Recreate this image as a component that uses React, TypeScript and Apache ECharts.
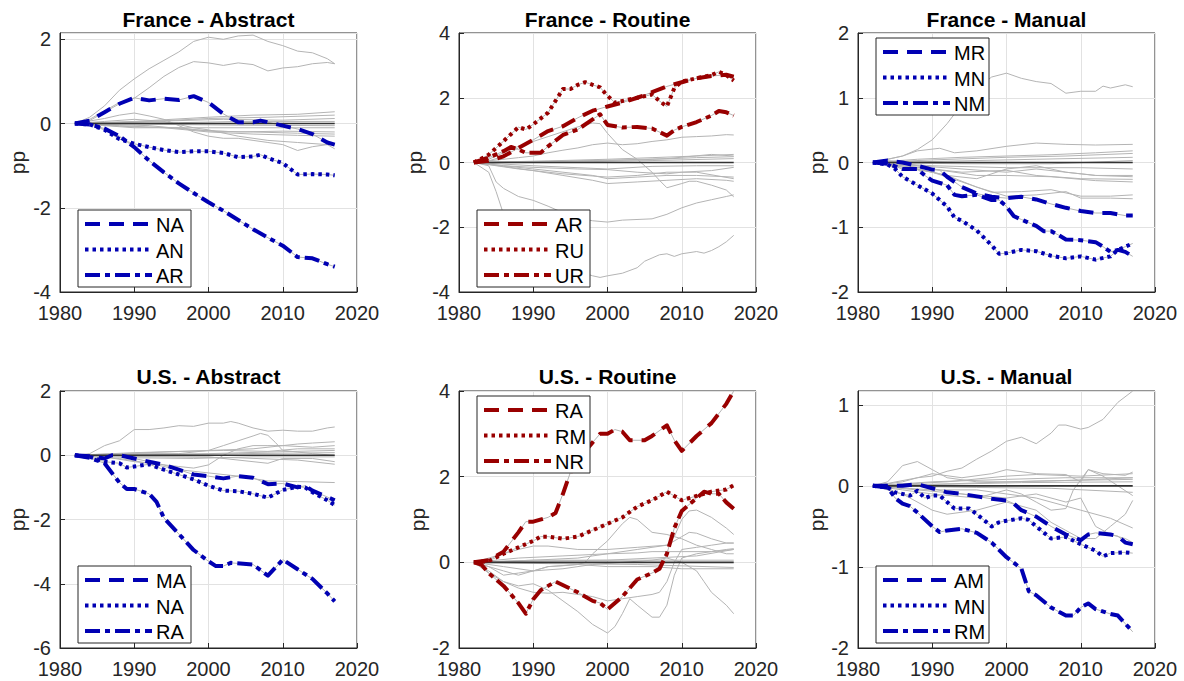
import React, { useEffect, useRef } from "react";
import * as echarts from "echarts";

// ---------- data: [year, pp] ----------
const X_TICKS = [1980, 1990, 2000, 2010, 2020];
const ZERO_SPAN = [1982, 2017];

// France - Abstract
const FRA_ABS_NA = [[1982,0],[1984,0.07],[1986,0.27],[1988,0.47],[1990,0.61],[1992,0.55],[1994,0.59],[1996,0.56],[1998,0.65],[2000,0.5],[2002,0.23],[2004,0.03],[2006,0.03],[2007,0.07],[2008,0.03],[2010,-0.05],[2012,-0.13],[2014,-0.25],[2016,-0.45],[2017,-0.5]];
const FRA_ABS_AN = [[1982,0],[1984,-0.02],[1986,-0.15],[1988,-0.37],[1990,-0.48],[1992,-0.56],[1994,-0.63],[1996,-0.68],[1998,-0.66],[2000,-0.66],[2002,-0.7],[2004,-0.8],[2006,-0.78],[2007,-0.74],[2008,-0.82],[2010,-0.94],[2012,-1.21],[2014,-1.2],[2016,-1.21],[2017,-1.23]];
const FRA_ABS_AR = [[1982,0],[1984,-0.02],[1986,-0.12],[1988,-0.3],[1990,-0.56],[1992,-0.88],[1994,-1.16],[1996,-1.42],[1998,-1.65],[2000,-1.87],[2002,-2.07],[2004,-2.29],[2006,-2.51],[2008,-2.71],[2010,-2.9],[2012,-3.17],[2014,-3.2],[2016,-3.34],[2017,-3.4]];
const FRA_ABS_GRAY = [
  [[1982,0],[1984,0.15],[1986,0.42],[1988,0.79],[1990,1.06],[1992,1.3],[1994,1.5],[1996,1.7],[1998,1.95],[2000,2.05],[2002,2.0],[2004,2.08],[2006,2.1],[2008,1.95],[2010,1.85],[2012,1.72],[2014,1.68],[2016,1.54],[2017,1.42]],
  [[1982,0],[1984,0.1],[1986,0.3],[1988,0.5],[1990,0.6],[1992,0.85],[1994,1.12],[1996,1.33],[1998,1.47],[2000,1.44],[2002,1.38],[2004,1.44],[2006,1.4],[2008,1.25],[2010,1.32],[2012,1.35],[2014,1.42],[2016,1.45],[2017,1.42]],
  [[1982,0],[1986,0.12],[1988,0.2],[1990,0.25],[1992,0.18],[1994,0.1],[1996,-0.05],[1998,-0.2],[2000,-0.3],[2002,-0.35],[2004,-0.35],[2006,-0.4],[2008,-0.45],[2010,-0.5],[2012,-0.64],[2014,-0.55],[2016,-0.5],[2017,-0.6]],
  [[1982,0],[1986,0.05],[1990,0.1],[1994,0.05],[1998,-0.1],[2000,-0.15],[2004,-0.3],[2008,-0.4],[2012,-0.45],[2016,-0.5],[2017,-0.5]],
  [[1982,0],[1988,-0.05],[1994,-0.1],[2000,-0.2],[2006,-0.25],[2012,-0.28],[2017,-0.3]],
  [[1982,0],[1990,-0.08],[1996,-0.1],[2000,-0.18],[2006,-0.2],[2012,-0.23],[2017,-0.25]],
  [[1982,0],[1990,-0.1],[2000,-0.1],[2010,-0.1],[2017,-0.1]],
  [[1982,0],[1990,0.05],[2000,0.15],[2006,0.2],[2012,0.22],[2017,0.28]],
  [[1982,0],[1990,0.03],[2000,0.12],[2008,0.15],[2017,0.2]],
  [[1982,0],[1992,0.05],[2002,0.1],[2010,0.08],[2017,0.12]],
  [[1982,0],[1996,0.02],[2004,0.05],[2017,0.05]],
  [[1982,0],[1994,-0.02],[2004,-0.04],[2017,-0.05]],
  [[1982,0],[1992,-0.05],[1998,-0.15],[2004,-0.2],[2010,-0.18],[2017,-0.2]],
];

// France - Routine
const FRA_ROU_AR = [[1982,0],[1984,0.05],[1986,0.19],[1988,0.45],[1990,0.7],[1992,0.97],[1994,1.12],[1996,1.38],[1998,1.6],[2000,1.73],[2002,1.85],[2004,2.0],[2006,2.17],[2008,2.35],[2010,2.48],[2012,2.6],[2014,2.67],[2016,2.71],[2017,2.65]];
const FRA_ROU_RU = [[1982,0],[1984,0.24],[1986,0.66],[1988,1.09],[1989,1.02],[1990,1.18],[1992,1.54],[1994,2.27],[1995,2.27],[1996,2.4],[1997,2.48],[1998,2.4],[1999,2.32],[2000,2.06],[2001,1.85],[2002,1.9],[2004,2.0],[2006,2.1],[2007,1.9],[2008,1.73],[2009,2.3],[2010,2.5],[2012,2.6],[2014,2.7],[2015,2.8],[2016,2.7],[2017,2.53]];
const FRA_ROU_UR = [[1982,0],[1984,0.15],[1986,0.35],[1987,0.48],[1988,0.4],[1989,0.3],[1990,0.3],[1991,0.3],[1992,0.5],[1994,0.85],[1996,1.02],[1998,1.33],[1999,1.49],[2000,1.16],[2002,1.08],[2004,1.1],[2006,1.05],[2008,0.83],[2009,1.0],[2010,1.1],[2012,1.25],[2014,1.45],[2015,1.59],[2016,1.55],[2017,1.45]];
const FRA_ROU_GRAY = [
  [[1982,0],[1984,0.1],[1986,0.3],[1988,0.5],[1990,0.65],[1992,0.8],[1994,0.95],[1996,1.1],[1998,1.22],[1999,1.2],[2000,0.9],[2002,0.4],[2004,0.1],[2006,-0.3],[2007,-0.55],[2008,-0.78],[2010,-0.65],[2011,-0.58],[2012,-0.58],[2014,-0.7],[2016,-0.85],[2017,-1.06]],
  [[1982,0],[1984,0.05],[1988,0.15],[1990,0.2],[1992,0.3],[1994,0.38],[1996,0.45],[1998,0.55],[2000,0.6],[2002,0.55],[2004,0.58],[2006,0.65],[2008,0.7],[2010,0.78],[2012,0.8],[2014,0.82],[2016,0.86],[2017,0.85]],
  [[1982,0],[1984,-0.1],[1985,-0.6],[1986,-0.8],[1988,-1.05],[1990,-1.17],[1992,-1.35],[1994,-1.55],[1996,-1.72],[1998,-1.8],[2000,-1.84],[2002,-1.78],[2006,-1.74],[2008,-1.6],[2010,-1.4],[2012,-1.25],[2014,-1.15],[2016,-1.05],[2017,-1.0]],
  [[1982,0],[1984,-0.3],[1985,-0.9],[1986,-1.6],[1988,-2.2],[1990,-2.6],[1992,-2.9],[1994,-3.15],[1996,-3.35],[1998,-3.5],[1999,-3.55],[2000,-3.5],[2002,-3.42],[2004,-3.25],[2005,-3.05],[2006,-2.95],[2007,-2.85],[2008,-2.82],[2009,-2.9],[2010,-2.82],[2012,-2.75],[2013,-2.8],[2014,-2.72],[2015,-2.6],[2016,-2.45],[2017,-2.25]],
  [[1982,0],[1986,0.02],[1992,0.05],[2000,0.1],[2006,0.15],[2012,0.2],[2017,0.25]],
  [[1982,0],[1990,0.03],[2000,0.07],[2008,0.12],[2014,0.25],[2017,0.2]],
  [[1982,0],[1994,0.03],[2004,0.08],[2012,0.15],[2017,0.18]],
  [[1982,0],[1996,0.02],[2006,0.06],[2017,0.12]],
  [[1982,0],[1986,-0.1],[1990,-0.15],[1996,-0.2],[2000,-0.22],[2004,-0.3],[2008,-0.35],[2010,-0.3],[2014,-0.25],[2017,-0.15]],
  [[1982,0],[1986,-0.1],[1990,-0.2],[1994,-0.3],[1998,-0.4],[2000,-0.5],[2004,-0.45],[2008,-0.4],[2012,-0.4],[2017,-0.45]],
  [[1982,0],[1986,-0.12],[1990,-0.25],[1994,-0.4],[1998,-0.55],[2000,-0.65],[2004,-0.6],[2008,-0.55],[2012,-0.5],[2016,-0.55],[2017,-0.58]],
  [[1982,0],[1988,-0.2],[1994,-0.35],[2000,-0.45],[2004,-0.4],[2008,-0.3],[2012,-0.3],[2017,-0.5]],
  [[1982,0],[1990,-0.1],[2000,-0.2],[2006,-0.12],[2012,-0.1],[2017,-0.1]],
];

// France - Manual
const FRA_MAN_MR = [[1982,0],[1984,0.03],[1986,0.0],[1988,-0.05],[1990,-0.11],[1991,-0.12],[1992,-0.22],[1994,-0.38],[1996,-0.48],[1998,-0.53],[2000,-0.55],[2002,-0.53],[2004,-0.57],[2006,-0.64],[2008,-0.7],[2010,-0.75],[2012,-0.78],[2014,-0.78],[2016,-0.82],[2017,-0.82]];
const FRA_MAN_MN = [[1982,0],[1984,-0.03],[1985,-0.1],[1986,-0.22],[1988,-0.35],[1990,-0.48],[1992,-0.68],[1993,-0.85],[1994,-0.9],[1996,-1.05],[1998,-1.28],[1999,-1.41],[2000,-1.4],[2002,-1.35],[2004,-1.37],[2006,-1.44],[2008,-1.48],[2010,-1.45],[2012,-1.5],[2014,-1.45],[2015,-1.35],[2016,-1.3],[2017,-1.25]];
const FRA_MAN_NM = [[1982,0],[1984,-0.02],[1986,-0.1],[1988,-0.1],[1989,-0.2],[1990,-0.28],[1992,-0.35],[1993,-0.5],[1994,-0.52],[1996,-0.5],[1998,-0.58],[1999,-0.58],[2000,-0.68],[2001,-0.83],[2002,-0.88],[2004,-0.98],[2005,-1.06],[2006,-1.06],[2007,-1.12],[2008,-1.19],[2010,-1.2],[2012,-1.23],[2013,-1.3],[2014,-1.38],[2015,-1.35],[2016,-1.38],[2017,-1.45]];
const FRA_MAN_GRAY = [
  [[1982,0],[1984,0.05],[1986,0.1],[1988,0.2],[1990,0.35],[1992,0.6],[1994,0.9],[1996,1.15],[1998,1.32],[2000,1.38],[2002,1.3],[2004,1.25],[2006,1.22],[2008,1.07],[2010,1.1],[2012,1.1],[2013,1.18],[2014,1.15],[2016,1.2],[2017,1.17]],
  [[1982,0],[1986,0.1],[1988,0.18],[1991,0.22],[1993,0.15],[1996,0.18],[2000,0.25],[2004,0.3],[2008,0.28],[2012,0.27],[2017,0.28]],
  [[1982,0],[1988,0.05],[1994,0.08],[2000,0.1],[2006,0.12],[2012,0.15],[2017,0.18]],
  [[1982,0],[1990,0.04],[2000,0.08],[2008,0.1],[2017,0.14]],
  [[1982,0],[1992,0.02],[2004,0.05],[2017,0.08]],
  [[1982,0],[1994,-0.02],[2006,-0.02],[2017,0.03]],
  [[1982,0],[1990,-0.05],[2000,-0.08],[2010,-0.08],[2017,-0.1]],
  [[1982,0],[1988,-0.05],[1994,-0.1],[2000,-0.15],[2004,-0.1],[2008,-0.15],[2012,-0.2],[2017,-0.22]],
  [[1982,0],[1990,-0.1],[1996,-0.2],[2000,-0.2],[2006,-0.22],[2012,-0.28],[2017,-0.3]],
  [[1982,0],[1986,-0.05],[1992,-0.2],[1996,-0.25],[2000,-0.1],[2004,-0.05],[2008,-0.15],[2012,-0.2],[2017,-0.2]],
  [[1982,0],[1988,-0.1],[1992,-0.2],[1996,-0.38],[2000,-0.52],[2004,-0.5],[2008,-0.45],[2010,-0.55],[2014,-0.55],[2017,-0.56]],
  [[1982,0],[1990,-0.15],[1994,-0.3],[1998,-0.46],[2002,-0.45],[2006,-0.42],[2010,-0.52],[2014,-0.52],[2017,-0.5]],
  [[1982,0],[1994,-0.15],[2000,-0.12],[2004,-0.2],[2010,-0.25],[2017,-0.26]],
];

// U.S. - Abstract
const USA_ABS_MA = [[1982,0],[1984,-0.03],[1986,-0.1],[1987,0.0],[1988,0.0],[1990,-0.1],[1992,-0.2],[1994,-0.3],[1996,-0.45],[1998,-0.6],[2000,-0.65],[2002,-0.72],[2004,-0.65],[2006,-0.7],[2008,-0.9],[2010,-0.88],[2012,-1.0],[2013,-0.95],[2014,-1.1],[2016,-1.3],[2017,-1.4]];
const USA_ABS_NA = [[1982,0],[1984,-0.05],[1986,-0.2],[1988,-0.25],[1989,-0.38],[1990,-0.35],[1992,-0.28],[1994,-0.45],[1996,-0.6],[1998,-0.75],[2000,-0.95],[2002,-1.1],[2004,-1.12],[2006,-1.2],[2008,-1.32],[2010,-1.08],[2012,-0.98],[2013,-1.0],[2014,-1.15],[2016,-1.4],[2017,-1.55]];
const USA_ABS_RA = [[1982,0],[1984,-0.08],[1986,-0.25],[1987,-0.55],[1988,-0.85],[1989,-1.05],[1990,-1.05],[1992,-1.2],[1993,-1.45],[1994,-1.95],[1996,-2.45],[1998,-2.95],[2000,-3.3],[2001,-3.45],[2002,-3.45],[2003,-3.35],[2006,-3.4],[2008,-3.75],[2010,-3.25],[2012,-3.55],[2014,-3.85],[2016,-4.3],[2017,-4.55]];
const USA_ABS_GRAY = [
  [[1982,0],[1984,0.05],[1986,0.3],[1988,0.45],[1990,0.8],[1992,0.8],[1994,0.85],[1996,0.92],[1998,0.9],[2000,1.0],[2002,1.0],[2003,1.05],[2004,1.0],[2006,0.85],[2008,0.75],[2010,0.78],[2012,0.75],[2014,0.75],[2016,0.85],[2017,0.88]],
  [[1982,0],[1990,0.05],[1996,0.05],[2000,0.15],[2002,0.3],[2004,0.45],[2006,0.6],[2007,0.68],[2008,0.62],[2009,0.4],[2010,0.15],[2012,0.1],[2014,0.05],[2017,0.0]],
  [[1982,0],[1986,-0.05],[1990,-0.2],[1994,-0.3],[1996,-0.35],[1998,-0.4],[2000,-0.3],[2002,0.0],[2004,0.2],[2006,0.3],[2008,0.3],[2010,0.3],[2012,0.35],[2014,0.38],[2017,0.42]],
  [[1982,0],[1988,-0.1],[1992,-0.25],[1996,-0.45],[2000,-0.55],[2004,-0.65],[2008,-0.8],[2012,-0.82],[2017,-0.85]],
  [[1982,0],[1988,0.05],[1994,0.1],[2000,0.15],[2006,0.2],[2010,0.3],[2014,0.25],[2017,0.3]],
  [[1982,0],[1990,0.08],[1996,0.12],[2002,0.15],[2008,0.12],[2012,0.2],[2017,0.2]],
  [[1982,0],[1992,0.02],[2000,0.05],[2008,0.1],[2017,0.15]],
  [[1982,0],[1994,0.02],[2004,0.05],[2017,0.08]],
  [[1982,0],[1992,-0.05],[2000,-0.05],[2008,-0.25],[2010,-0.1],[2014,-0.1],[2017,-0.2]],
  [[1982,0],[1996,-0.05],[2004,-0.08],[2012,-0.15],[2017,-0.28]],
  [[1982,0],[1990,-0.08],[1998,-0.1],[2006,-0.05],[2017,-0.05]],
];

// U.S. - Routine
const USA_ROU_RA = [[1982,0],[1984,0.05],[1986,0.25],[1988,0.7],[1989,0.95],[1990,0.95],[1992,1.05],[1993,1.15],[1994,1.6],[1995,2.1],[1996,2.4],[1998,2.8],[1999,3.0],[2000,3.0],[2001,3.1],[2002,3.05],[2003,2.85],[2005,2.85],[2006,2.95],[2008,3.2],[2009,2.85],[2010,2.6],[2012,2.95],[2014,3.25],[2016,3.7],[2017,4.0]];
const USA_ROU_RM = [[1982,0],[1984,0.03],[1986,0.2],[1988,0.35],[1990,0.5],[1991,0.6],[1992,0.6],[1994,0.55],[1996,0.6],[1998,0.75],[2000,0.9],[2002,1.05],[2004,1.3],[2006,1.45],[2008,1.65],[2010,1.45],[2012,1.55],[2014,1.65],[2016,1.7],[2017,1.8]];
const USA_ROU_NR = [[1982,0],[1983,-0.05],[1984,-0.25],[1986,-0.55],[1988,-0.95],[1989,-1.2],[1990,-0.86],[1991,-0.65],[1993,-0.45],[1996,-0.7],[1998,-0.9],[1999,-0.95],[2000,-1.1],[2002,-0.8],[2004,-0.4],[2006,-0.25],[2007,-0.15],[2008,0.2],[2009,0.8],[2010,1.2],[2012,1.5],[2013,1.65],[2014,1.6],[2015,1.6],[2016,1.4],[2017,1.25]];
const USA_ROU_GRAY = [
  [[1982,0],[1984,-0.1],[1986,-0.3],[1988,-0.25],[1990,-0.2],[1992,-0.1],[1994,-0.08],[1996,-0.05],[1997,0.0],[1998,0.2],[2000,0.5],[2002,0.9],[2003,1.05],[2004,1.0],[2006,0.7],[2008,0.65],[2010,0.55],[2012,0.4],[2014,0.3],[2016,0.2],[2017,0.2]],
  [[1982,0],[1990,0.05],[1996,0.1],[2000,0.2],[2004,0.3],[2008,0.4],[2009,0.6],[2010,1.0],[2011,1.2],[2012,1.22],[2014,1.05],[2016,0.8],[2017,0.65]],
  [[1982,0],[1984,-0.25],[1986,-0.45],[1988,-0.55],[1990,-0.5],[1992,-0.65],[1994,-0.9],[1996,-1.15],[1998,-1.45],[2000,-1.65],[2001,-1.5],[2002,-1.2],[2003,-0.85],[2004,-1.0],[2006,-1.28],[2007,-1.28],[2008,-1.0],[2009,-0.3],[2010,0.1],[2012,0.2],[2014,0.25],[2016,0.3],[2017,0.32]],
  [[1982,0],[1986,-0.1],[1990,-0.2],[1994,-0.15],[1998,-0.05],[2002,0.0],[2006,0.05],[2008,0.1],[2010,0.0],[2012,-0.2],[2013,-0.45],[2014,-0.7],[2016,-1.0],[2017,-1.2]],
  [[1982,0],[1984,-0.2],[1986,-0.45],[1988,-0.6],[1990,-0.7],[1992,-0.72],[1994,-0.7],[1996,-0.75],[1998,-0.8],[2000,-0.9],[2002,-0.85],[2004,-0.8],[2006,-0.75],[2007,-0.7],[2008,-0.45],[2009,0.0],[2010,0.3],[2012,0.35],[2014,0.4],[2016,0.45],[2017,0.45]],
  [[1982,0],[1986,0.2],[1988,0.3],[1990,0.38],[1992,0.38],[1996,0.3],[2000,0.3],[2004,0.35],[2008,0.4],[2010,0.6],[2011,0.7],[2012,0.68],[2014,0.55],[2016,0.45],[2017,0.45]],
  [[1982,0],[1986,-0.2],[1988,-0.3],[1990,-0.2],[1992,-0.1],[1996,-0.05],[2000,-0.1],[2006,-0.1],[2010,-0.15],[2017,-0.15]],
  [[1982,0],[1990,0.05],[2000,0.05],[2006,0.1],[2012,0.15],[2017,0.3]],
  [[1982,0],[1990,0.03],[2000,0.05],[2010,0.05],[2017,0.05]],
  [[1982,0],[1992,-0.03],[2004,-0.05],[2017,-0.12]],
  [[1982,0],[1988,0.1],[1994,0.15],[2000,0.2],[2004,0.22],[2006,0.25],[2010,0.25],[2014,0.25],[2017,0.3]],
];

// U.S. - Manual
const USA_MAN_AM = [[1982,0],[1984,0],[1986,0],[1988,0.02],[1990,-0.03],[1992,-0.08],[1994,-0.1],[1996,-0.13],[1998,-0.16],[2000,-0.18],[2001,-0.22],[2002,-0.3],[2004,-0.38],[2006,-0.5],[2008,-0.6],[2010,-0.67],[2011,-0.6],[2012,-0.58],[2014,-0.6],[2015,-0.62],[2016,-0.7],[2017,-0.72]];
const USA_MAN_MN = [[1982,0],[1984,-0.02],[1985,-0.08],[1986,-0.1],[1987,-0.12],[1988,-0.06],[1989,-0.15],[1990,-0.12],[1991,-0.12],[1992,-0.2],[1993,-0.28],[1995,-0.28],[1996,-0.35],[1998,-0.5],[1999,-0.45],[2000,-0.43],[2002,-0.4],[2003,-0.42],[2004,-0.5],[2006,-0.65],[2008,-0.63],[2010,-0.72],[2012,-0.8],[2013,-0.87],[2014,-0.83],[2016,-0.82],[2017,-0.83]];
const USA_MAN_RM = [[1982,0],[1984,-0.02],[1985,-0.15],[1986,-0.22],[1987,-0.25],[1988,-0.33],[1990,-0.5],[1991,-0.57],[1992,-0.55],[1994,-0.53],[1996,-0.58],[1998,-0.7],[2000,-0.88],[2002,-1.02],[2003,-1.3],[2004,-1.35],[2006,-1.5],[2008,-1.6],[2009,-1.6],[2010,-1.5],[2011,-1.45],[2012,-1.52],[2014,-1.58],[2015,-1.6],[2016,-1.7],[2017,-1.8]];
const USA_MAN_GRAY = [
  [[1982,0],[1984,0.03],[1988,0.1],[1990,0.12],[1992,0.18],[1994,0.22],[1996,0.33],[1998,0.43],[2000,0.55],[2002,0.6],[2004,0.52],[2006,0.65],[2007,0.75],[2008,0.75],[2010,0.7],[2011,0.72],[2013,0.82],[2015,1.03],[2017,1.17]],
  [[1982,0],[1984,0.05],[1986,0.25],[1988,0.3],[1990,0.2],[1992,0.1],[1996,0.05],[2000,0.05],[2006,0.06],[2012,0.08],[2017,0.1]],
  [[1982,0],[1986,0.05],[1990,0.15],[1994,0.1],[1998,0.15],[2000,0.2],[2004,0.15],[2008,0.14],[2010,0.05],[2011,0.2],[2013,0.15],[2016,0.13],[2017,0.17]],
  [[1982,0],[1990,-0.05],[1996,-0.05],[2000,-0.1],[2004,-0.15],[2008,-0.25],[2010,-0.3],[2014,-0.4],[2017,-0.52]],
  [[1982,0],[1986,-0.1],[1990,-0.3],[1992,-0.35],[1996,-0.3],[2000,-0.2],[2004,-0.3],[2006,-0.45],[2008,-0.55],[2010,-0.65],[2012,-0.65],[2014,-0.5],[2016,-0.35],[2017,-0.18]],
  [[1982,0],[1986,-0.05],[1990,-0.1],[1996,-0.15],[2000,-0.05],[2002,-0.1],[2004,-0.2],[2006,-0.3],[2008,-0.28],[2009,-0.05],[2011,0.2],[2013,0.12],[2015,0.0],[2017,-0.12]],
  [[1982,0],[1988,-0.05],[1994,-0.1],[2000,-0.15],[2004,-0.1],[2008,-0.2],[2010,-0.15],[2012,-0.5],[2014,-0.6],[2016,-0.65],[2017,-0.7]],
  [[1982,0],[1990,0.05],[2000,0.08],[2008,0.1],[2017,0.1]],
  [[1982,0],[1994,0.03],[2004,0.06],[2017,0.08]],
  [[1982,0],[1992,0.02],[2002,0.04],[2017,0.05]],
  [[1982,0],[1996,-0.02],[2006,-0.03],[2017,-0.08]],
  [[1982,0],[1992,0.05],[2000,0.12],[2004,0.14],[2010,0.12],[2017,0.15]],
];

// ---------- styling / layout ----------
const BLUE = "#0000b3";
const RED = "#990000";
const GRAY = "#b4b4b4";
const AXIS = "#262626";
const FONT = "'Liberation Sans', Arial, Helvetica, sans-serif";
const DASHED = [15, 9];
const DOTTED = [3.5, 4];
const DASHDOT = [15, 5, 5, 5];
const STYLES = [DASHED, DOTTED, DASHDOT];

const COL_LEFT = [60, 459, 858];
const PLOT_W = 297;
const ROW_TOP = [33, 391];
const PLOT_H = [259, 257];
const TITLE_Y = [19, 376];
const LEG_W = 113;
const LEG_H = 77;

const PANELS = [
  { title: "France - Abstract", row: 0, col: 0, ymin: -4, ymax: 2.15, step: 2, color: BLUE, names: ["NA", "AN", "AR"], lines: [FRA_ABS_NA, FRA_ABS_AN, FRA_ABS_AR], gray: FRA_ABS_GRAY, legend: "lower", nameGap: 32 },
  { title: "France - Routine", row: 0, col: 1, ymin: -4, ymax: 4, step: 2, color: RED, names: ["AR", "RU", "UR"], lines: [FRA_ROU_AR, FRA_ROU_RU, FRA_ROU_UR], gray: FRA_ROU_GRAY, legend: "lower", nameGap: 34 },
  { title: "France - Manual", row: 0, col: 2, ymin: -2, ymax: 2, step: 1, color: BLUE, names: ["MR", "MN", "NM"], lines: [FRA_MAN_MR, FRA_MAN_MN, FRA_MAN_NM], gray: FRA_MAN_GRAY, legend: "upper", nameGap: 30 },
  { title: "U.S. - Abstract", row: 1, col: 0, ymin: -6, ymax: 2, step: 2, color: BLUE, names: ["MA", "NA", "RA"], lines: [USA_ABS_MA, USA_ABS_NA, USA_ABS_RA], gray: USA_ABS_GRAY, legend: "lower", nameGap: 32 },
  { title: "U.S. - Routine", row: 1, col: 1, ymin: -2, ymax: 4, step: 2, color: RED, names: ["RA", "RM", "NR"], lines: [USA_ROU_RA, USA_ROU_RM, USA_ROU_NR], gray: USA_ROU_GRAY, legend: "upper", nameGap: 31 },
  { title: "U.S. - Manual", row: 1, col: 2, ymin: -2, ymax: 1.17, step: 1, color: BLUE, names: ["AM", "MN", "RM"], lines: [USA_MAN_AM, USA_MAN_MN, USA_MAN_RM], gray: USA_MAN_GRAY, legend: "lower", nameGap: 30 },
];

function buildOption() {
  const grid: any[] = [];
  const xAxis: any[] = [];
  const yAxis: any[] = [];
  const series: any[] = [];
  const graphic: any[] = [];

  PANELS.forEach((p, i) => {
    const left = COL_LEFT[p.col];
    const top = ROW_TOP[p.row];
    const h = PLOT_H[p.row];
    grid.push({
      left, top, width: PLOT_W, height: h, show: true,
      borderColor: AXIS, borderWidth: 1, backgroundColor: "#fff",
      containLabel: false, outerBoundsMode: "none",
    });
    xAxis.push({
      gridIndex: i, type: "value", min: X_TICKS[0], max: X_TICKS[X_TICKS.length - 1], interval: 10,
      axisLine: { show: true, onZero: false, lineStyle: { color: AXIS, width: 1 } },
      axisTick: { show: true, inside: true, length: 5, lineStyle: { color: AXIS } },
      axisLabel: { formatter: (v: number) => String(v), color: AXIS, fontSize: 20, fontFamily: FONT, margin: 11 },
      splitLine: { show: true, lineStyle: { color: "#e2e2e2", width: 1 } },
    });
    const onStep = Math.abs(p.ymax / p.step - Math.round(p.ymax / p.step)) < 1e-9;
    yAxis.push({
      gridIndex: i, type: "value", min: p.ymin, max: p.ymax, interval: p.step,
      name: "pp", nameLocation: "middle", nameGap: p.nameGap, nameRotate: 90,
      nameTextStyle: { fontSize: 21, color: AXIS, fontFamily: FONT },
      axisLine: { show: true, onZero: false, lineStyle: { color: AXIS, width: 1 } },
      axisTick: { show: true, inside: true, length: 5, lineStyle: { color: AXIS } },
      axisLabel: { color: AXIS, fontSize: 20, fontFamily: FONT, margin: 9, showMaxLabel: onStep },
      splitLine: { show: true, lineStyle: { color: "#e2e2e2", width: 1 } },
    });

    const base = { type: "line", xAxisIndex: i, yAxisIndex: i, symbol: "none", showSymbol: false, silent: true, animation: false };
    [...p.gray, ...p.lines].forEach((g, k) => {
      series.push({ ...base, name: `${p.title} gray ${k}`, data: g, lineStyle: { color: GRAY, width: 1 }, z: 2 });
    });
    series.push({
      ...base, name: `${p.title} zero`,
      data: ZERO_SPAN.map((yr) => [yr, 0]),
      lineStyle: { color: "#333333", width: 1.6 }, z: 3,
    });
    p.lines.forEach((ln, k) => {
      series.push({
        ...base, name: `${p.title} ${p.names[k]}`, data: ln,
        lineStyle: { color: p.color, width: 4, type: STYLES[k], cap: "butt", join: "round" }, z: 4,
      });
    });

    // title
    graphic.push({
      type: "text", x: left + PLOT_W / 2, y: TITLE_Y[p.row], z: 100,
      style: { text: p.title, fontSize: 21, fontWeight: "bold", fontFamily: FONT, fill: "#000", align: "center", verticalAlign: "middle" },
    });

    // legend box
    const lx = left + 18;
    const ly = p.legend === "lower" ? top + h - 5 - LEG_H : top + 5;
    graphic.push({
      type: "rect", x: lx, y: ly, z: 100,
      shape: { x: 0, y: 0, width: LEG_W, height: LEG_H },
      style: { fill: "#fff", stroke: AXIS, lineWidth: 1 },
    });
    p.names.forEach((nm, k) => {
      const ry = ly + 14 + k * 25.5;
      graphic.push({
        type: "line", z: 101,
        shape: { x1: lx + 7, y1: ry, x2: lx + 74, y2: ry },
        style: { stroke: p.color, lineWidth: 4, lineDash: STYLES[k], lineCap: "butt" },
      });
      graphic.push({
        type: "text", x: lx + 78, y: ry + 1, z: 101,
        style: { text: nm, fontSize: 20, fontFamily: FONT, fill: "#000", align: "left", verticalAlign: "middle" },
      });
    });
  });

  return { animation: false, backgroundColor: "#fff", grid, xAxis, yAxis, series, graphic };
}

export default function App() {
  const ref = useRef<HTMLDivElement>(null);
  useEffect(() => {
    if (!ref.current) return;
    const chart = echarts.init(ref.current, undefined, { renderer: "svg" });
    chart.setOption(buildOption() as any);
    return () => chart.dispose();
  }, []);
  return (
    <div
      ref={ref}
      style={{ position: "fixed", left: 0, top: 0, width: 1184, height: 681, background: "#fff" }}
    />
  );
}
